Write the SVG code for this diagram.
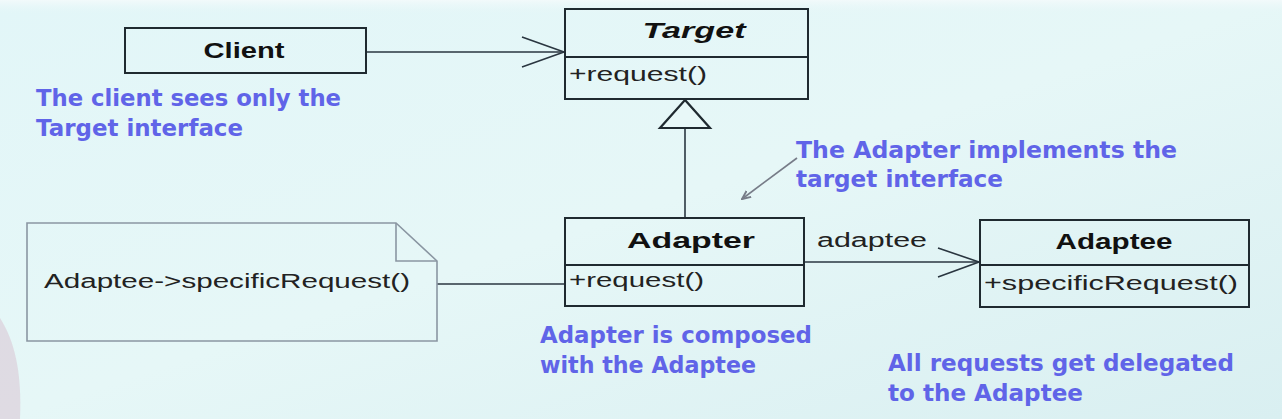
<svg xmlns="http://www.w3.org/2000/svg" width="1282" height="419" viewBox="0 0 1282 419">
<defs>
<linearGradient id="bg" x1="0" y1="0" x2="1" y2="1">
<stop offset="0" stop-color="#e2f6f8"/>
<stop offset="0.5" stop-color="#e6f7f7"/>
<stop offset="1" stop-color="#d9eff1"/>
</linearGradient>
<linearGradient id="top" x1="0" y1="0" x2="0" y2="1">
<stop offset="0" stop-color="#f2fafb"/>
<stop offset="1" stop-color="#e6f6f7" stop-opacity="0"/>
</linearGradient>
<marker id="ptr" viewBox="0 0 10 10" refX="9" refY="5" markerWidth="6" markerHeight="6" orient="auto">
<path d="M0,1 L9,5 L0,9" fill="none" stroke="#777c88" stroke-width="2"/>
</marker>
<style>
.box{fill:none;stroke:#1f2a30;stroke-width:2}
.line{fill:none;stroke:#2a3640;stroke-width:1.6}
.name{font-family:"Liberation Sans",Arial,sans-serif;font-weight:bold;font-size:22px;fill:#111}
.op{font-family:"Liberation Sans",Arial,sans-serif;font-size:20px;fill:#222}
.note{font-family:"DejaVu Sans","Liberation Sans",sans-serif;font-weight:bold;font-size:23px;fill:#6064e8}
</style>
</defs>
<rect width="1282" height="419" fill="url(#bg)"/>
<rect width="1282" height="14" fill="url(#top)"/>
<path d="M0,318 C14,340 22,370 20,419 L0,419 Z" fill="#dccfda" opacity="0.7"/>

<g id="connectors">
<path class="line" d="M366,52 H564"/>
<path class="line" d="M522,37 L564,52 L522,67"/>
<path class="line" d="M685,128 V217"/>
<path d="M685,100 L660,128 L710,128 Z" fill="#e8f8f8" stroke="#1f2a30" stroke-width="2.2"/>
<path class="line" d="M437,284 H564"/>
<path class="line" d="M805,262 H979"/>
<path class="line" d="M938,248 L979,262 L938,277"/>
<text x="817" y="247" class="op" font-size="22" textLength="110" lengthAdjust="spacingAndGlyphs" fill="#333">adaptee</text>
<path d="M797,158 L742,199" stroke="#777c88" stroke-width="1.6" fill="none" marker-end="url(#ptr)"/>
</g>

<g id="client">
<rect class="box" x="125" y="28" width="241" height="45"/>
<text x="244" y="58" class="name" text-anchor="middle" textLength="81" lengthAdjust="spacingAndGlyphs">Client</text>
</g>

<g id="target">
<rect class="box" x="565" y="9" width="243" height="90"/>
<path class="box" d="M565,57 H808"/>
<text x="694" y="38" class="name" font-style="italic" text-anchor="middle" textLength="103" lengthAdjust="spacingAndGlyphs">Target</text>
<text x="569" y="81" class="op" textLength="138" lengthAdjust="spacingAndGlyphs">+request()</text>
</g>

<g id="adapter">
<rect class="box" x="565" y="218" width="239" height="88"/>
<path class="box" d="M565,265 H804"/>
<text x="691" y="248" class="name" text-anchor="middle" textLength="128" lengthAdjust="spacingAndGlyphs">Adapter</text>
<text x="569" y="287" class="op" textLength="135" lengthAdjust="spacingAndGlyphs">+request()</text>
</g>

<g id="adaptee">
<rect class="box" x="980" y="220" width="269" height="87"/>
<path class="box" d="M980,265 H1249"/>
<text x="1114" y="249" class="name" text-anchor="middle" textLength="117" lengthAdjust="spacingAndGlyphs">Adaptee</text>
<text x="984" y="290" class="op" textLength="254" lengthAdjust="spacingAndGlyphs">+specificRequest()</text>
</g>

<g id="code-note">
<path d="M27,223 H396 L437,261 V341 H27 Z" fill="none" stroke="#8a96a2" stroke-width="1.6"/>
<path d="M396,223 V261 H437" fill="none" stroke="#8a96a2" stroke-width="1.6"/>
<text x="44" y="288" class="op" font-size="22" textLength="366" lengthAdjust="spacingAndGlyphs" fill="#333">Adaptee-&gt;specificRequest()</text>
</g>

<g id="notes">
<text x="36" y="106" class="note" textLength="305" lengthAdjust="spacingAndGlyphs">The client sees only the</text>
<text x="36" y="136" class="note" textLength="207" lengthAdjust="spacingAndGlyphs">Target interface</text>
<text x="796" y="158" class="note" textLength="381" lengthAdjust="spacingAndGlyphs">The Adapter implements the</text>
<text x="796" y="187" class="note" textLength="207" lengthAdjust="spacingAndGlyphs">target interface</text>
<text x="540" y="343" class="note" textLength="272" lengthAdjust="spacingAndGlyphs">Adapter is composed</text>
<text x="540" y="373" class="note" textLength="216" lengthAdjust="spacingAndGlyphs">with the Adaptee</text>
<text x="888" y="371" class="note" textLength="346" lengthAdjust="spacingAndGlyphs">All requests get delegated</text>
<text x="888" y="401" class="note" textLength="195" lengthAdjust="spacingAndGlyphs">to the Adaptee</text>
</g>
</svg>
